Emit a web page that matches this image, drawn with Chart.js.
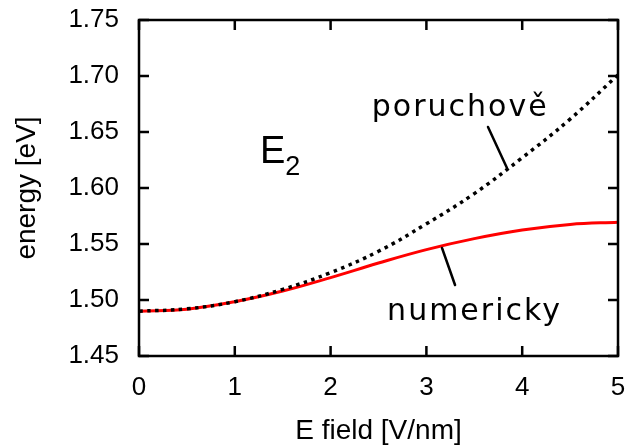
<!DOCTYPE html>
<html>
<head>
<meta charset="utf-8">
<script src="https://cdn.jsdelivr.net/npm/chart.js@4.4.0/dist/chart.umd.min.js"></script>
<style>
  html, body { margin: 0; padding: 0; background: #fff; }
  #wrap { width: 629px; height: 448px; }
</style>
</head>
<body>
<div id="wrap"><canvas id="energyChart" width="629" height="448"></canvas></div>
<script>
// pole E [V/nm] a energie E2 [eV]
const fieldValues = [0, 0.5, 1, 1.5, 2, 2.5, 3, 3.5, 4, 4.5, 5];
const numericky = [1.490, 1.4918, 1.4985, 1.508, 1.520, 1.533, 1.545, 1.5548, 1.5625, 1.5675, 1.5695];
const poruchove = [1.490, 1.4921, 1.4985, 1.5095, 1.5245, 1.5435, 1.568, 1.595, 1.627, 1.6615, 1.701];

const xTicks = [0, 1, 2, 3, 4, 5];
const yTicks = [1.45, 1.50, 1.55, 1.60, 1.65, 1.70, 1.75];

// popisky (v datových souřadnicích)
const notes = [
    { text: "poruchově", x: 2.43, y: 1.664, line: [[3.643, 1.6545], [3.841, 1.6179]] },
    { text: "numericky", x: 2.59, y: 1.482, line: [[3.163, 1.5464], [3.299, 1.5134]] }
];
const stateLabel = { x: 1.284, y: 1.6223 };

const toPoints = (ys) => fieldValues.map((x, i) => ({ x: x, y: ys[i] }));

// rámeček, vnitřní tiky a ručně psané popisky
const gnuplotLook = {
    id: "gnuplotLook",
    afterDraw(chart) {
        const ctx = chart.ctx;
        const a = chart.chartArea;
        const xs = chart.scales.x, ys = chart.scales.y;
        const tick = 10;
        ctx.save();
        ctx.strokeStyle = "#000";
        ctx.lineWidth = 2.5;
        ctx.beginPath();
        xTicks.forEach(v => {
            const px = xs.getPixelForValue(v);
            ctx.moveTo(px, a.bottom); ctx.lineTo(px, a.bottom - tick);
            ctx.moveTo(px, a.top); ctx.lineTo(px, a.top + tick);
        });
        yTicks.forEach(v => {
            const py = ys.getPixelForValue(v);
            ctx.moveTo(a.left, py); ctx.lineTo(a.left + tick, py);
            ctx.moveTo(a.right, py); ctx.lineTo(a.right - tick, py);
        });
        ctx.stroke();
        ctx.strokeRect(a.left, a.top, a.right - a.left, a.bottom - a.top);

        // E_2
        ctx.fillStyle = "#000";
        ctx.textBaseline = "alphabetic";
        ctx.textAlign = "left";
        const ex = xs.getPixelForValue(stateLabel.x), ey = ys.getPixelForValue(stateLabel.y);
        ctx.font = "38px 'Liberation Sans', Arial, sans-serif";
        ctx.fillText("E", ex - 2, ey);
        const w = ctx.measureText("E").width;
        ctx.font = "27px 'Liberation Sans', Arial, sans-serif";
        ctx.fillText("2", ex - 2 + w, ey + 12);

        // popisky
        ctx.font = "30px 'DejaVu Sans', sans-serif";
        ctx.letterSpacing = "2px";
        ctx.lineWidth = 2.5;
        ctx.lineCap = "round";
        notes.forEach(n => {
            ctx.fillText(n.text, xs.getPixelForValue(n.x), ys.getPixelForValue(n.y));
            ctx.beginPath();
            ctx.moveTo(xs.getPixelForValue(n.line[0][0]), ys.getPixelForValue(n.line[0][1]));
            ctx.lineTo(xs.getPixelForValue(n.line[1][0]), ys.getPixelForValue(n.line[1][1]));
            ctx.stroke();
        });
        ctx.restore();
    }
};

const tickFont = { family: "'Liberation Sans', Arial, sans-serif", size: 26 };
const titleFont = { family: "'Liberation Sans', Arial, sans-serif", size: 28 };

// bez přesahu popisků tiků, okraje řídí jen layout.padding
const noOverhang = (s) => {
    s.paddingLeft = 0; s.paddingRight = 0; s.paddingTop = 0; s.paddingBottom = 0;
};

new Chart(document.getElementById("energyChart").getContext("2d"), {
    type: "line",
    data: {
        datasets: [
            {
                label: "poruchově",
                data: toPoints(poruchove),
                borderColor: "#000",
                borderWidth: 3.5,
                borderDash: [3.5, 4.5],
                borderCapStyle: "butt",
                pointRadius: 0,
                fill: false,
                tension: 0.4
            },
            {
                label: "numericky",
                data: toPoints(numericky),
                borderColor: "#ff0000",
                borderWidth: 3,
                pointRadius: 0,
                fill: false,
                tension: 0.4
            }
        ]
    },
    options: {
        responsive: false,
        animation: false,
        events: [],
        layout: { padding: { left: 0, right: 11, top: 20, bottom: 0 } },
        plugins: {
            legend: { display: false },
            tooltip: { enabled: false }
        },
        scales: {
            x: {
                type: "linear",
                min: 0,
                max: 5,
                afterFit: (s) => { s.height = 92; noOverhang(s); },
                afterBuildTicks: (s) => { s.ticks = xTicks.map(v => ({ value: v })); },
                grid: { display: false, drawTicks: false },
                border: { display: false },
                ticks: { color: "#000", font: tickFont, padding: 16, maxRotation: 0,
                         callback: (v) => String(v) },
                title: { display: true, text: "E field [V/nm]", color: "#000", font: titleFont,
                         padding: { top: 0, bottom: 0 } }
            },
            y: {
                type: "linear",
                min: 1.45,
                max: 1.75,
                afterFit: (s) => { s.width = 139; noOverhang(s); },
                afterBuildTicks: (s) => { s.ticks = yTicks.map(v => ({ value: v })); },
                grid: { display: false, drawTicks: false },
                border: { display: false },
                ticks: { color: "#000", font: tickFont, padding: 20,
                         callback: (v) => Number(v).toFixed(2) },
                title: { display: true, text: "energy [eV]", color: "#000", font: titleFont,
                         padding: { top: 10, bottom: 0 } }
            }
        }
    },
    plugins: [gnuplotLook]
});
</script>
</body>
</html>
